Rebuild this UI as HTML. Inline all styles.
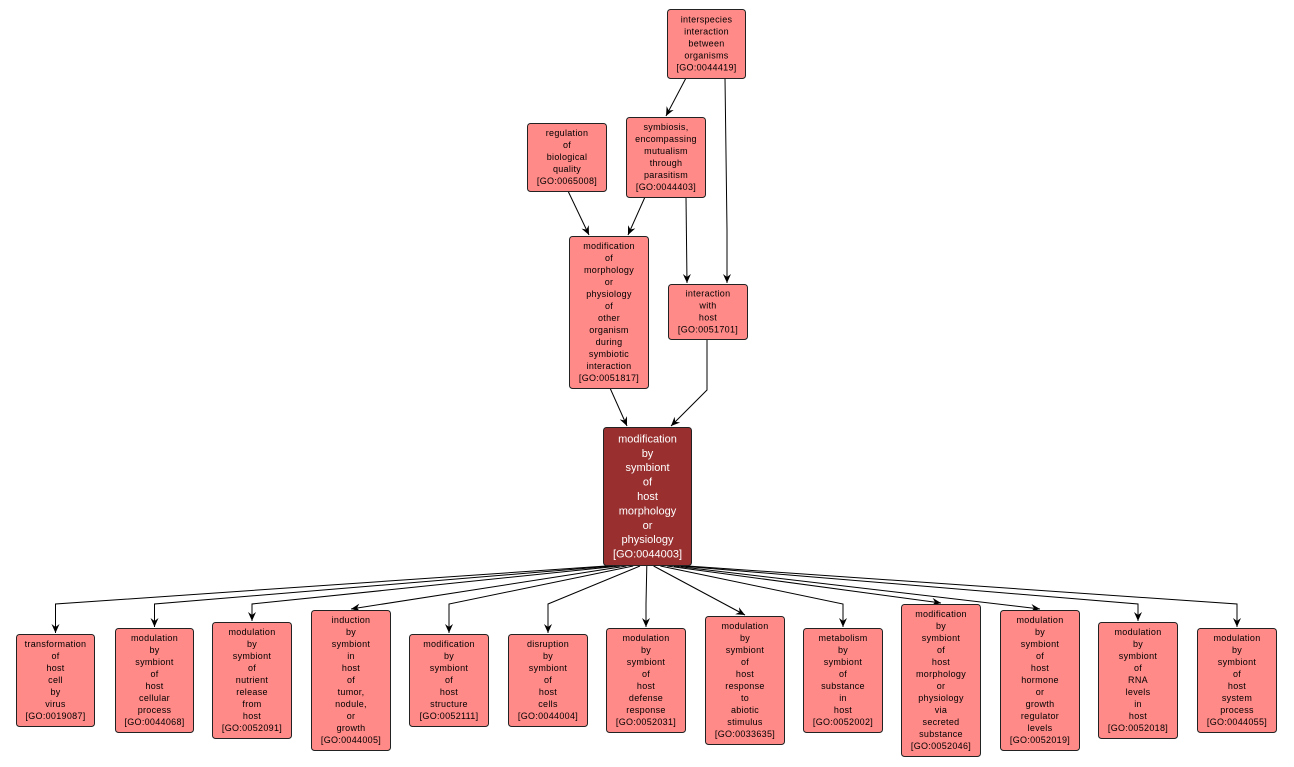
<!DOCTYPE html>
<html><head><meta charset="utf-8"><style>
body{margin:0;background:#fff;}
svg{display:block;font-family:"Liberation Sans",Arial,sans-serif;}
.b{fill:#ff8a87;stroke:#222;stroke-width:1;}
.m{fill:#992f2f;stroke:#222;stroke-width:1;}
.t{font-size:9px;text-anchor:middle;fill:#000;letter-spacing:0.3px;}
.w{font-size:11px;text-anchor:middle;fill:#fff;}
.e{fill:none;stroke:#000;stroke-width:1;}
</style></head><body>
<svg width="1294" height="767" viewBox="0 0 1294 767">
<defs><marker id="a" markerWidth="10" markerHeight="10" refX="9" refY="5" orient="auto" markerUnits="userSpaceOnUse"><path d="M0,1 L9,5 L0,9 L3,5 Z" fill="#000"/></marker></defs>
<g id="edges"></g>
<g id="nodes"></g>
</svg>
<script>
const E=document.getElementById('edges'),N=document.getElementById('nodes'),ns='http://www.w3.org/2000/svg';
function line(pts){const p=document.createElementNS(ns,'polyline');p.setAttribute('points',pts.map(q=>q.join(',')).join(' '));p.setAttribute('class','e');p.setAttribute('marker-end','url(#a)');E.appendChild(p);}
function node(x1,y1,x2,y2,lines,main){const r=document.createElementNS(ns,'rect');r.setAttribute('x',x1+.5);r.setAttribute('y',y1+.5);r.setAttribute('width',x2-x1);r.setAttribute('height',y2-y1);r.setAttribute('rx',3);r.setAttribute('class',main?'m':'b');N.appendChild(r);
const lh=main?14.4:12,cy=(y1+y2)/2,n=lines.length,st=cy-(n-1)*lh/2;
lines.forEach((s,i)=>{const t=document.createElementNS(ns,'text');t.setAttribute('x',(x1+x2)/2+.5);t.setAttribute('y',st+i*lh+(main?4:3.2));t.setAttribute('class',main?'w':'t');t.textContent=s;N.appendChild(t);});}
node(667,9,745,78,["interspecies","interaction","between","organisms","[GO:0044419]"]);
node(527,123,606,191,["regulation","of","biological","quality","[GO:0065008]"]);
node(626,117,705,197,["symbiosis,","encompassing","mutualism","through","parasitism","[GO:0044403]"]);
node(569,236,648,388,["modification","of","morphology","or","physiology","of","other","organism","during","symbiotic","interaction","[GO:0051817]"]);
node(668,284,747,339,["interaction","with","host","[GO:0051701]"]);
node(603,427,691,565,["modification","by","symbiont","of","host","morphology","or","physiology","[GO:0044003]"],true);
line([[686,78],[666,116]]);
line([[725,78],[727,230],[727,283]]);
line([[645,197],[628,235]]);
line([[686,197],[687,283]]);
line([[568,191],[589,235]]);
line([[610,388],[627,426]]);
line([[707,339],[707,390],[671,426]]);
const B=[
[16,94,634,726,["transformation","of","host","cell","by","virus","[GO:0019087]"]],
[115,193,628,732,["modulation","by","symbiont","of","host","cellular","process","[GO:0044068]"]],
[212,291,622,738,["modulation","by","symbiont","of","nutrient","release","from","host","[GO:0052091]"]],
[311,390,610,750,["induction","by","symbiont","in","host","of","tumor,","nodule,","or","growth","[GO:0044005]"]],
[409,488,634,726,["modification","by","symbiont","of","host","structure","[GO:0052111]"]],
[508,587,634,726,["disruption","by","symbiont","of","host","cells","[GO:0044004]"]],
[606,685,628,732,["modulation","by","symbiont","of","host","defense","response","[GO:0052031]"]],
[705,784,616,744,["modulation","by","symbiont","of","host","response","to","abiotic","stimulus","[GO:0033635]"]],
[803,882,628,732,["metabolism","by","symbiont","of","substance","in","host","[GO:0052002]"]],
[901,980,604,756,["modification","by","symbiont","of","host","morphology","or","physiology","via","secreted","substance","[GO:0052046]"]],
[1000,1079,610,750,["modulation","by","symbiont","of","host","hormone","or","growth","regulator","levels","[GO:0052019]"]],
[1098,1177,622,738,["modulation","by","symbiont","of","RNA","levels","in","host","[GO:0052018]"]],
[1197,1276,628,732,["modulation","by","symbiont","of","host","system","process","[GO:0044055]"]]];
B.forEach((b,i)=>{const cx=(b[0]+b[1])/2+.5,sx=606+i*6.8;
if(b[2]<=612||Math.abs(cx-647)<120&&b[2]<620){line([[sx,566],[cx,b[2]-1]]);}
else line([[sx,566],[cx,604],[cx,b[2]-1]]);
node(b[0],b[2],b[1],b[3],b[4]);});
</script>
</body></html>
